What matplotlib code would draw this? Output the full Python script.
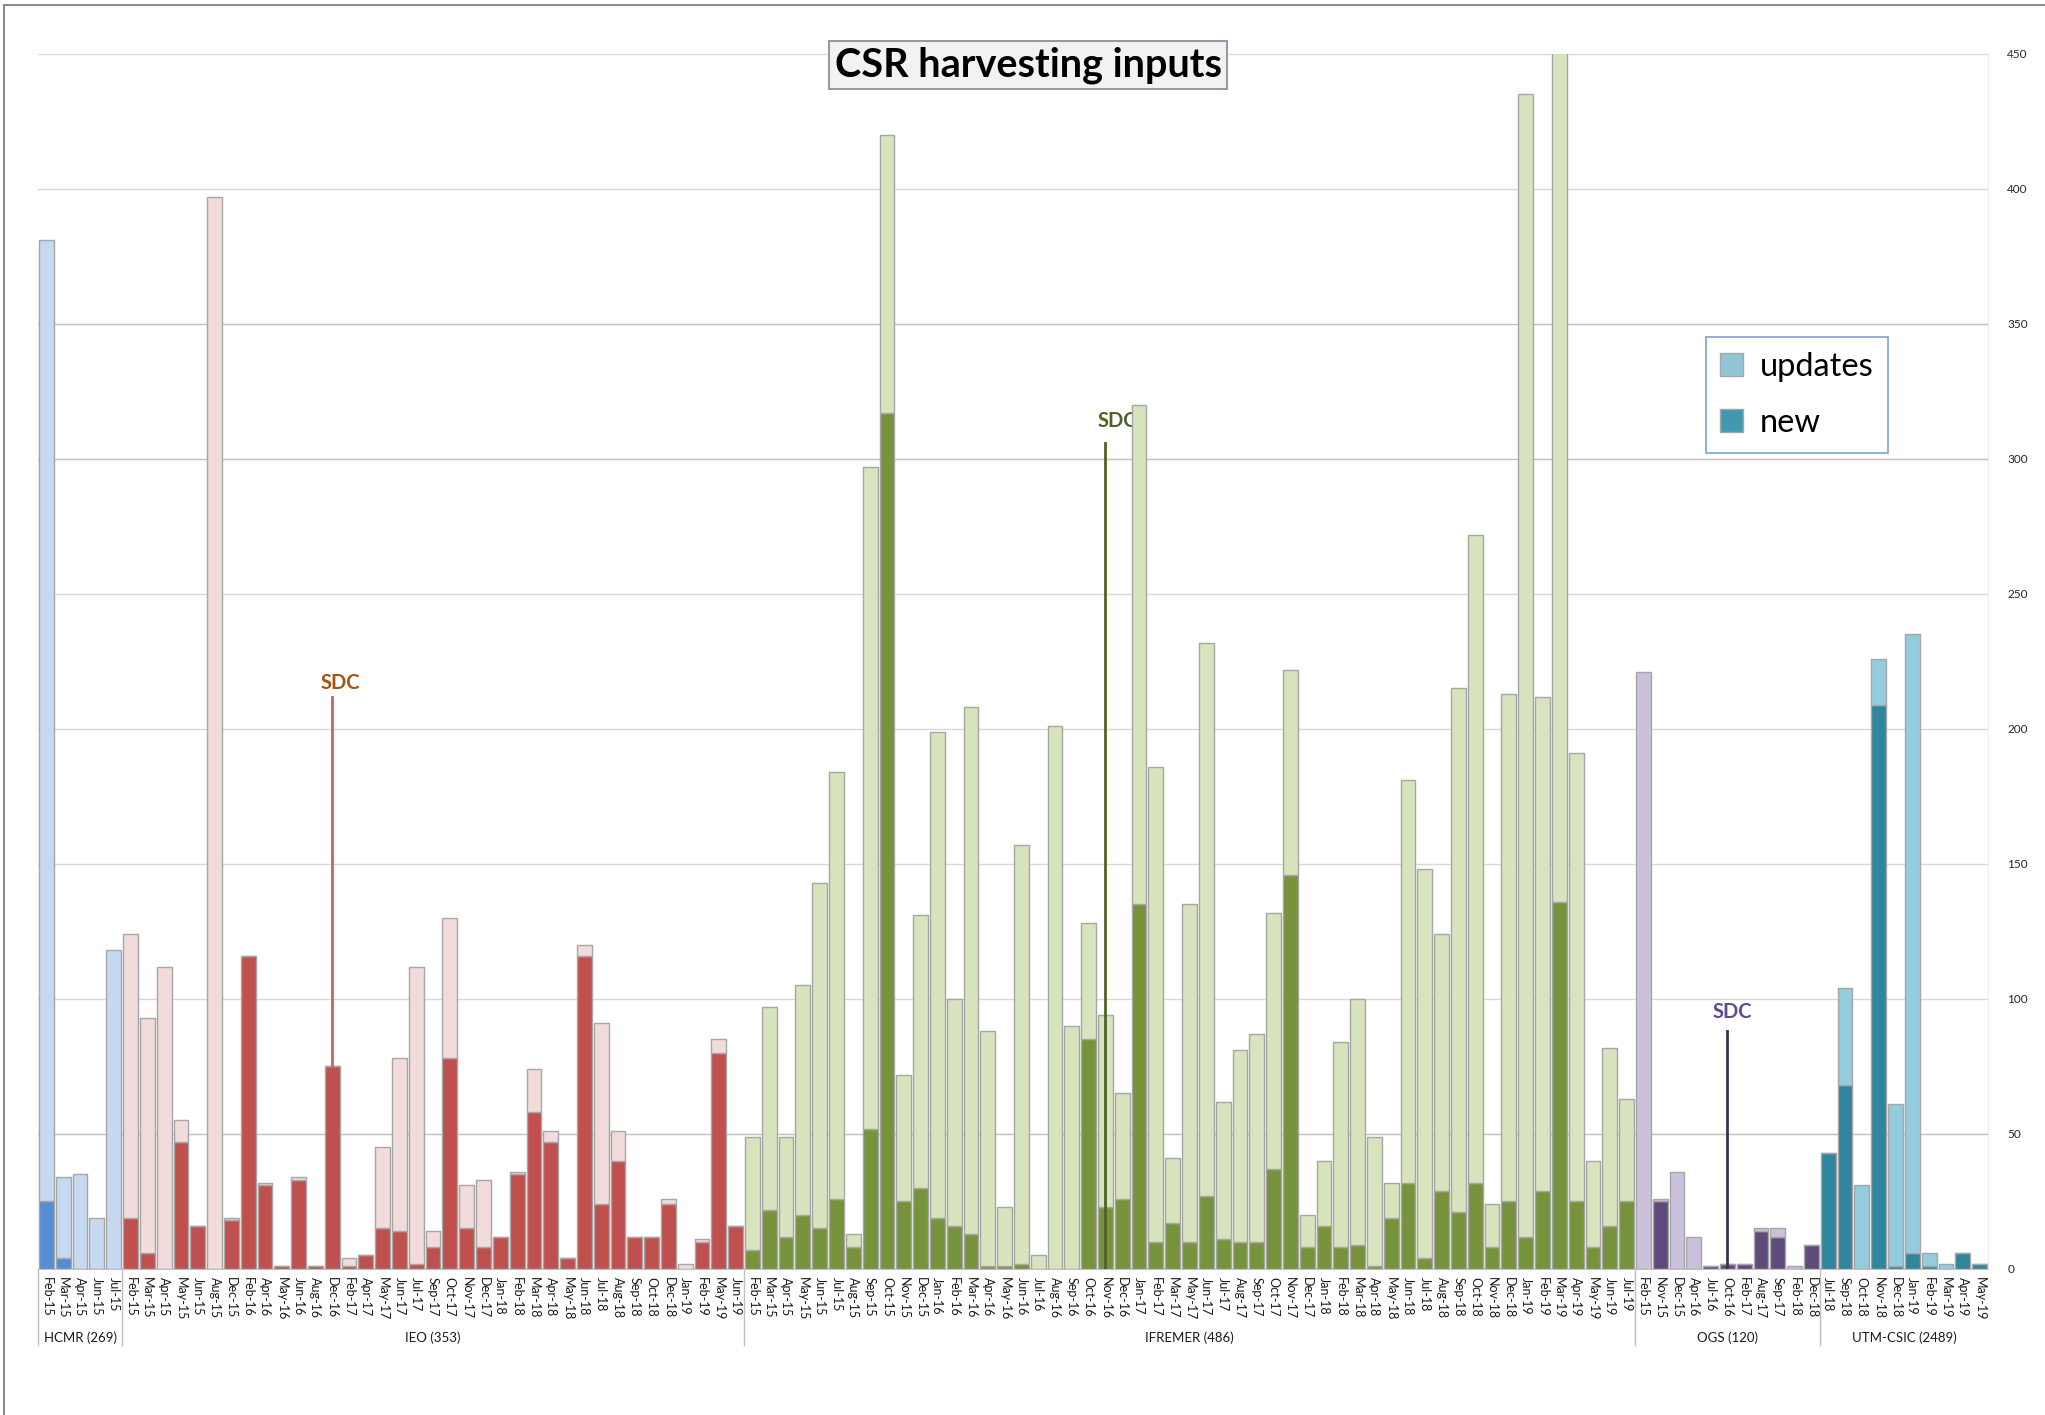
import matplotlib.pyplot as plt
import matplotlib.transforms as mtransforms
from matplotlib.lines import Line2D
from matplotlib.patches import Patch
import numpy as np

plt.rcParams['font.family'] = ['Lato', 'DejaVu Sans']

# ---- data ----
hcmr_months = ['Feb-15', 'Mar-15', 'Apr-15', 'Jun-15', 'Jul-15']
hcmr_new = [25, 4, 0, 0, 0]
hcmr_upd = [356, 30, 35, 19, 118]

ieo_months = ['Feb-15', 'Mar-15', 'Apr-15', 'May-15', 'Jun-15', 'Aug-15', 'Dec-15',
              'Feb-16', 'Apr-16', 'May-16', 'Jun-16', 'Aug-16', 'Dec-16', 'Feb-17',
              'Apr-17', 'May-17', 'Jun-17', 'Jul-17', 'Sep-17', 'Oct-17', 'Nov-17',
              'Dec-17', 'Jan-18', 'Feb-18', 'Mar-18', 'Apr-18', 'May-18', 'Jun-18',
              'Jul-18', 'Aug-18', 'Sep-18', 'Oct-18', 'Dec-18', 'Jan-19', 'Feb-19',
              'May-19', 'Jun-19']
ieo_new = [19, 6, 0, 47, 16, 0, 18, 116, 31, 1, 33, 1, 75, 1, 5, 15, 14, 2, 8, 78,
           15, 8, 12, 35, 58, 47, 4, 116, 24, 40, 12, 12, 24, 0, 10, 80, 16]
ieo_upd = [105, 87, 112, 8, 0, 397, 1, 0, 1, 0, 1, 0, 0, 3, 0, 30, 64, 110, 6, 52,
           16, 25, 0, 1, 16, 4, 0, 4, 67, 11, 0, 0, 2, 2, 1, 5, 0]

ifremer_months = ['Feb-15', 'Mar-15', 'Apr-15', 'May-15', 'Jun-15', 'Jul-15', 'Aug-15',
                  'Sep-15', 'Oct-15', 'Nov-15', 'Dec-15', 'Jan-16', 'Feb-16', 'Mar-16',
                  'Apr-16', 'May-16', 'Jun-16', 'Jul-16', 'Aug-16', 'Sep-16', 'Oct-16',
                  'Nov-16', 'Dec-16', 'Jan-17', 'Feb-17', 'Mar-17', 'May-17', 'Jun-17',
                  'Jul-17', 'Aug-17', 'Sep-17', 'Oct-17', 'Nov-17', 'Dec-17', 'Jan-18',
                  'Feb-18', 'Mar-18', 'Apr-18', 'May-18', 'Jun-18', 'Jul-18', 'Aug-18',
                  'Sep-18', 'Oct-18', 'Nov-18', 'Dec-18', 'Jan-19', 'Feb-19', 'Mar-19',
                  'Apr-19', 'May-19', 'Jun-19', 'Jul-19']
ifremer_new = [7, 22, 12, 20, 15, 26, 8, 52, 317, 25, 30, 19, 16, 13, 1, 1, 2, 0, 0, 0,
               85, 23, 26, 135, 10, 17, 10, 27, 11, 10, 10, 37, 146, 8, 16, 8, 9, 1, 19,
               32, 4, 29, 21, 32, 8, 25, 12, 29, 136, 25, 8, 16, 25]
ifremer_upd = [42, 75, 37, 85, 128, 158, 5, 245, 103, 47, 101, 180, 84, 195, 87, 22,
               155, 5, 201, 90, 43, 71, 39, 185, 176, 24, 125, 205, 51, 71, 77, 95, 76,
               12, 24, 76, 91, 48, 13, 149, 144, 95, 194, 240, 16, 188, 423, 183, 334,
               166, 32, 66, 38]

ogs_months = ['Feb-15', 'Nov-15', 'Dec-15', 'Apr-16', 'Jul-16', 'Oct-16', 'Feb-17',
              'Aug-17', 'Sep-17', 'Feb-18', 'Dec-18']
ogs_new = [0, 25, 0, 0, 1, 2, 2, 14, 12, 0, 9]
ogs_upd = [221, 1, 36, 12, 0, 0, 0, 1, 3, 1, 0]

utm_months = ['Jul-18', 'Sep-18', 'Oct-18', 'Nov-18', 'Dec-18', 'Jan-19', 'Feb-19',
              'Mar-19', 'Apr-19', 'May-19']
utm_new = [43, 68, 0, 209, 1, 6, 1, 0, 6, 2]
utm_upd = [0, 36, 31, 17, 60, 229, 5, 2, 0, 0]

group_names = ['HCMR (269)', 'IEO (353)', 'IFREMER (486)', 'OGS (120)', 'UTM-CSIC (2489)']
group_light = ['#c6d9f1', '#f2dcdb', '#d7e4bd', '#ccc1da', '#93cddd']
group_dark = ['#558ed5', '#c0504d', '#77933c', '#604a7b', '#31859c']

groups = [
    (hcmr_months, hcmr_new, hcmr_upd),
    (ieo_months, ieo_new, ieo_upd),
    (ifremer_months, ifremer_new, ifremer_upd),
    (ogs_months, ogs_new, ogs_upd),
    (utm_months, utm_new, utm_upd),
]

labels, new, upd, light_c, dark_c, sizes = [], [], [], [], [], []
for g, (m, n, u) in enumerate(groups):
    labels += m
    new += n
    upd += u
    light_c += [group_light[g]] * len(m)
    dark_c += [group_dark[g]] * len(m)
    sizes.append(len(m))
new = np.array(new)
upd = np.array(upd)
x = np.arange(len(labels))
starts = np.concatenate([[0], np.cumsum(sizes)])

# ---- figure ----
fig = plt.figure(figsize=(20.45, 14.15), dpi=100)
ax = fig.add_axes([0.0186, 0.1032, 0.9535, 0.8587])

ax.bar(x, new, width=0.88, color=dark_c, edgecolor='#a6a6a6', linewidth=1.0, zorder=2)
ax.bar(x, upd, bottom=new, width=0.88, color=light_c, edgecolor='#a6a6a6',
       linewidth=1.0, zorder=2)

ax.set_xlim(-0.5, len(labels) - 0.5)
ax.set_ylim(0, 450)
ax.set_yticks(np.arange(0, 451, 50))
ax.yaxis.tick_right()
ax.tick_params(axis='y', length=0, pad=14, labelsize=8.5, labelcolor='#262626')
ax.set_xticks(x)
ax.set_xticklabels(labels, rotation=-90, fontsize=9, color='#1a1a1a')
ax.tick_params(axis='x', length=0, pad=6)

ax.set_axisbelow(True)
ax.yaxis.grid(True, color='#d9d9d9', linewidth=1.0)
for val, gl in zip(ax.get_yticks(), ax.get_ygridlines()):
    if val in (50, 300, 350):
        gl.set_color('#bfbfbf')

for side in ['top', 'left']:
    ax.spines[side].set_visible(False)
ax.spines['right'].set_color('#ededed')
ax.spines['bottom'].set_color('#bfbfbf')

# group separators and group names
trans = mtransforms.blended_transform_factory(ax.transData, ax.transAxes)
for b in starts[:-1]:
    ax.plot([b - 0.5, b - 0.5], [0, -0.0626], transform=trans, color='#bfbfbf',
            linewidth=1.0, clip_on=False)
for g, name in enumerate(group_names):
    centre = (starts[g] + starts[g + 1] - 1) / 2
    ax.text(centre, -0.0565, name, transform=trans, ha='center', va='center',
            fontsize=9.5, color='#1a1a1a')

# SDC markers: (group, month, line top, text y, text x offset, text colour, line colour, down to zero)
sdc_marks = [
    (1, 'Dec-16', 212, 217, 0.5, '#a5540f', '#d0605f', False),
    (2, 'Nov-16', 306, 314, 0.7, '#4f6228', '#4f6228', True),
    (3, 'Oct-16', 88, 95, 0.3, '#5f4b8b', '#3f3151', True),
]
for g, month, ltop, ty, dx, tcol, lcol, to_zero in sdc_marks:
    i = starts[g] + groups[g][0].index(month)
    base = 0 if to_zero else new[i] + upd[i]
    ax.plot([i, i], [base, ltop], color=lcol, linewidth=2.0, zorder=3)
    ax.text(i + dx, ty, 'SDC', ha='center', va='center', fontsize=14.5,
            fontweight='bold', color=tcol, zorder=1.5)

# title
fig.text(0.5027, 0.954, 'CSR harvesting inputs', ha='center', va='center',
         fontsize=28.5, fontweight='bold', color='black',
         bbox=dict(boxstyle='square,pad=0.14', facecolor='#f2f2f2', edgecolor='#8c8096',
                   linewidth=1.2))

# legend
handles = [Patch(facecolor='#93c5d6', edgecolor='#a6a6a6', label='updates'),
           Patch(facecolor='#4099b0', edgecolor='#a6a6a6', label='new')]
leg = fig.legend(handles=handles, loc='upper left', bbox_to_anchor=(0.834, 0.7618),
                 fontsize=23.5, frameon=True, fancybox=False, borderaxespad=0,
                 handlelength=0.7, handleheight=0.7, handletextpad=0.5,
                 labelspacing=0.8, borderpad=0.45)
leg.get_frame().set_edgecolor('#5b8bd0')
leg.get_frame().set_linewidth(1.2)

# outer frame (top and left edges visible in the reference)
fig.add_artist(Line2D([0.002, 0.002], [0, 0.9965], transform=fig.transFigure,
                      color='#8c8c8c', linewidth=1.5))
fig.add_artist(Line2D([0.002, 1], [0.9965, 0.9965], transform=fig.transFigure,
                      color='#8c8c8c', linewidth=1.5))

fig.savefig('out.png', dpi=100, facecolor='white')
